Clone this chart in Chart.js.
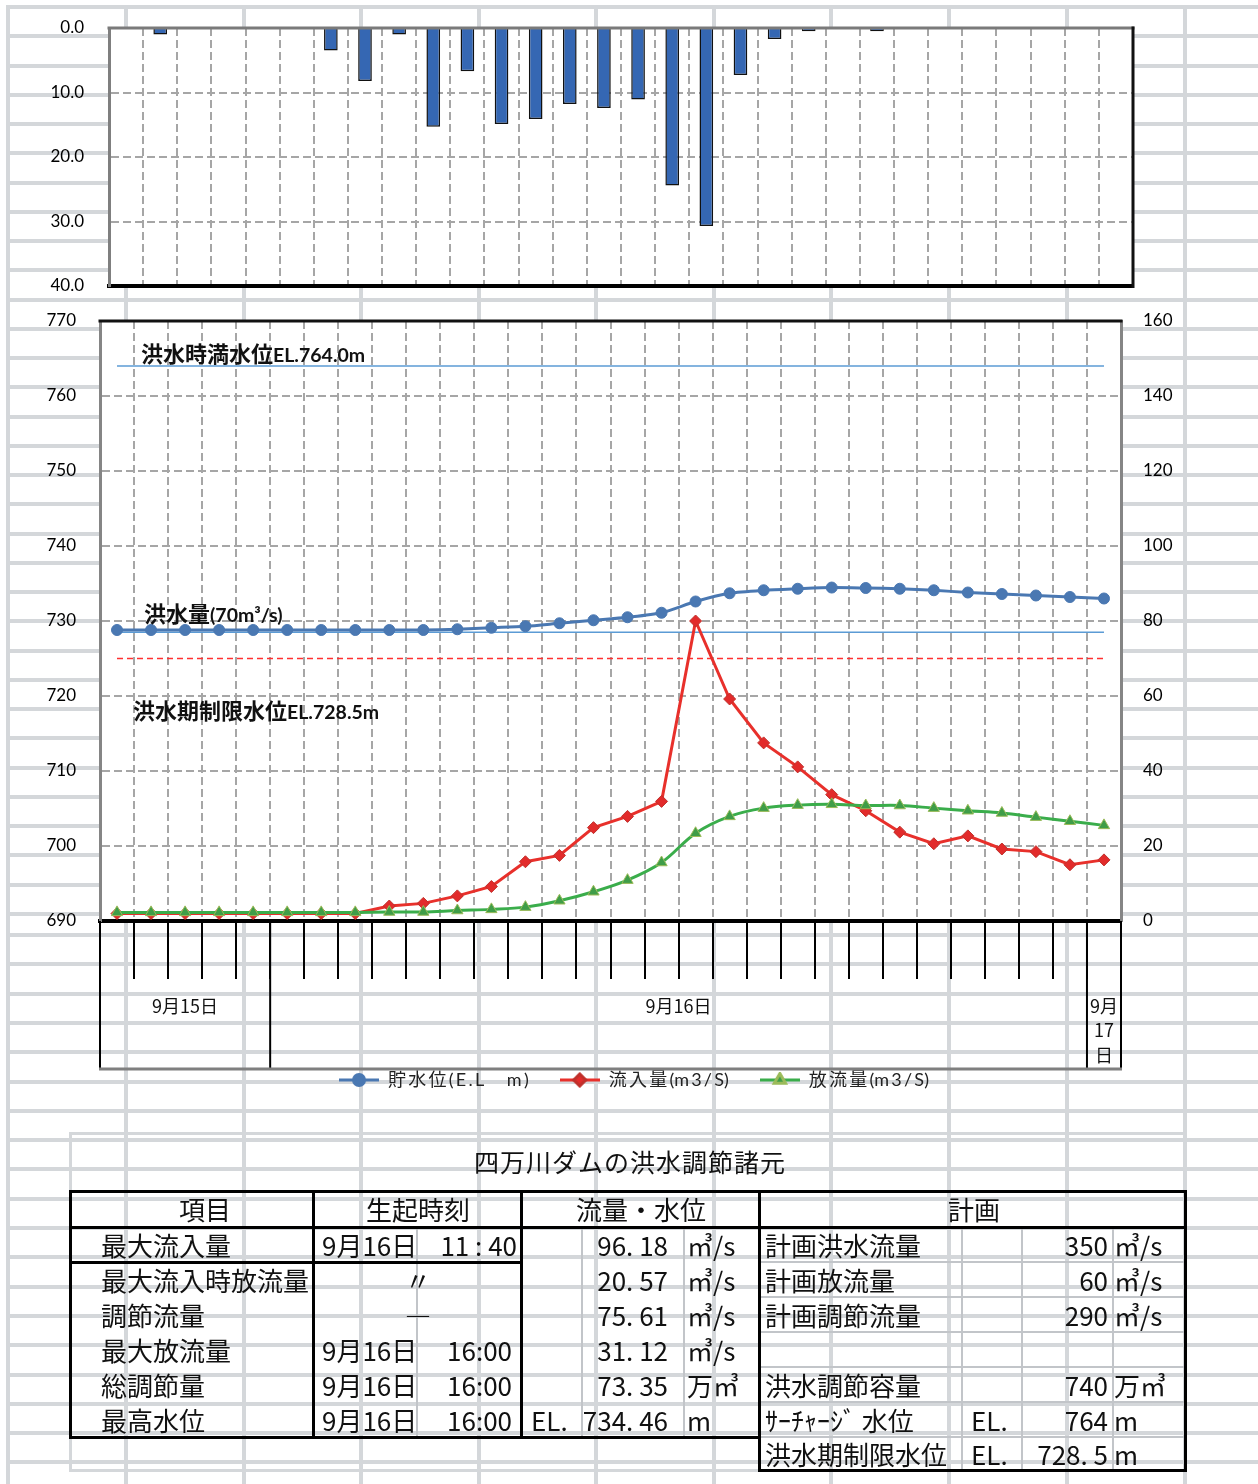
<!DOCTYPE html>
<html lang="ja">
<head>
<meta charset="utf-8">
<title>四万川ダムの洪水調節</title>
<script src="https://cdn.jsdelivr.net/npm/chart.js@4.4.1/dist/chart.umd.min.js"></script>
<style>
html, body { margin: 0; padding: 0; background: #fff; }
#page { position: relative; width: 1258px; height: 1484px; overflow: hidden; font-family: "Noto Sans CJK JP", sans-serif; color: #111; }
#page div { position: absolute; }
#bg, #tbl { left: 0; top: 0; width: 1258px; height: 1484px; }
.gl { background: #d4d7da; }
.tx { white-space: nowrap; line-height: 1; font-size: 26px; font-family: "Liberation Sans Narrow", "Noto Sans CJK JP", sans-serif; color: #111; }
canvas { position: absolute; left: 0; }
#rain { top: 0; }
#main { top: 300px; }
</style>
</head>
<body>
<div id="page">
  <div id="bg"></div>
  <canvas id="rain" width="1258" height="300"></canvas>
  <canvas id="main" width="1258" height="800"></canvas>
  <div id="tbl"></div>
</div>
<script>
// ---- data ----
const timeLabels = [
  '9/15 19:00', '9/15 20:00', '9/15 21:00', '9/15 22:00', '9/15 23:00',
  '9/16 0:00', '9/16 1:00', '9/16 2:00', '9/16 3:00', '9/16 4:00', '9/16 5:00',
  '9/16 6:00', '9/16 7:00', '9/16 8:00', '9/16 9:00', '9/16 10:00', '9/16 11:00',
  '9/16 12:00', '9/16 13:00', '9/16 14:00', '9/16 15:00', '9/16 16:00', '9/16 17:00',
  '9/16 18:00', '9/16 19:00', '9/16 20:00', '9/16 21:00', '9/16 22:00', '9/16 23:00',
  '9/17 0:00'
];
const rainfall = [0, 1.0, 0, 0, 0, 0, 3.5, 8.2, 1.0, 15.3, 6.7, 14.9, 14.1, 11.8, 12.4,
  11.1, 24.4, 30.7, 7.3, 1.7, 0.5, 0, 0.5, 0, 0, 0, 0, 0, 0, 0];
const waterLevel = [728.8, 728.8, 728.8, 728.8, 728.8, 728.8, 728.8, 728.8, 728.8, 728.8,
  728.9, 729.1, 729.3, 729.7, 730.1, 730.5, 731.1, 732.6, 733.7, 734.1,
  734.3, 734.46, 734.4, 734.3, 734.1, 733.8, 733.6, 733.4, 733.2, 733.0];
const inflow = [2.0, 2.0, 2.0, 2.0, 2.0, 2.0, 2.0, 2.0, 4.0, 4.7,
  6.7, 9.2, 15.8, 17.5, 24.9, 27.9, 31.9, 80.0, 59.2, 47.5,
  41.1, 33.7, 29.4, 23.7, 20.6, 22.7, 19.2, 18.5, 15.0, 16.3];
const outflow = [2.3, 2.3, 2.3, 2.3, 2.3, 2.3, 2.3, 2.3, 2.4, 2.4,
  2.8, 3.1, 3.7, 5.4, 7.8, 10.9, 15.6, 23.4, 27.9, 30.1,
  30.9, 31.12, 30.8, 30.8, 30.1, 29.4, 28.8, 27.7, 26.6, 25.5];
const seriesNames = [
  '貯\u2009水\u2009位\u2009(\u2009E\u2009.\u2009L\u3000 m\u2009)',
  '流\u2009入\u2009量\u2009(m\u20093\u2009/\u2009S)',
  '放\u2009流\u2009量\u2009(m\u20093\u2009/\u2009S)'
];
const fullLevel = 764;      // 洪水時満水位
const limitLevel = 728.5;   // 洪水期制限水位
const floodFlow = 70;       // 洪水量
const noteTexts = [['洪水時満水位', 'EL.764.0m'], ['洪水量', '(70m³/s)'], ['洪水期制限水位', 'EL.728.5m']];
const noteAnchors = [764, 728.5, 718];
const dayNames = ['9月15日', '9月16日', '9月17日'];
const dayFirstIndex = [0, 5, 29];
const dayPointCount = [5, 24, 1];

const tableTitle = '四万川ダムの洪水調節諸元';
const headTexts = ['項目', '生起時刻', '流量・水位', '計画'];
const itemNames = ['最大流入量', '最大流入時放流量', '調節流量', '最大放流量', '総調節量', '最高水位'];
const itemDates = ['9月16日', '', '', '9月16日', '9月16日', '9月16日'];
const itemTimes = ['11 : 40', '〃', '―', '16:00', '16:00', '16:00'];
const itemPrefix = ['', '', '', '', '', 'EL.'];
const itemValues = ['96. 18', '20. 57', '75. 61', '31. 12', '73. 35', '734. 46'];
const itemUnits = ['㎥/s', '㎥/s', '㎥/s', '㎥/s', '万㎥', 'm'];
const planNames = ['計画洪水流量', '計画放流量', '計画調節流量', '', '洪水調節容量', 'ｻｰﾁｬｰｼﾞ 水位', '洪水期制限水位'];
const planPrefix = ['', '', '', '', '', 'EL.', 'EL.'];
const planValues = ['350', '60', '290', '', '740', '764', '728. 5'];
const planUnits = ['㎥/s', '㎥/s', '㎥/s', '', '万㎥', 'm', 'm'];

// ---- spreadsheet background ----
const bg = document.getElementById('bg');
const addDiv = (parent, cls, css) => {
  const d = document.createElement('div');
  d.className = cls;
  Object.assign(d.style, css);
  parent.appendChild(d);
  return d;
};
const colX = [8, 126, 244, 361, 479, 596, 714, 831, 949, 1067, 1185];
const rowY = [];
for (let y = 7; y < 920; y += 29.25) rowY.push(y);
for (let y = 935; y < 1484; y += 29.3) rowY.push(y);
colX.forEach(x => addDiv(bg, 'gl', { left: (x - 2) + 'px', top: '5px', width: '4px', height: '1480px' }));
rowY.forEach(y => addDiv(bg, 'gl', { left: '6px', top: (y - 2) + 'px', width: '1252px', height: '4px' }));

Chart.defaults.font.family = "Lato, 'Noto Sans CJK JP', sans-serif";
Chart.defaults.color = '#000';

const gridGrey = '#a6a6a6';
const tickFont = { family: 'Lato', size: 17 };
const clear = 'rgba(0,0,0,0)';

const whitePlot = {
  id: 'whitePlot',
  beforeDraw(chart) {
    const { ctx, chartArea: a } = chart;
    ctx.save();
    ctx.fillStyle = '#fff';
    ctx.fillRect(a.left, a.top, a.right - a.left, a.bottom - a.top);
    ctx.restore();
  }
};

const edgeLines = (topColor, rightColor) => ({
  id: 'edgeLines',
  afterDraw(chart) {
    const { ctx, chartArea: a } = chart;
    ctx.save();
    ctx.lineWidth = 3;
    if (topColor) {
      ctx.strokeStyle = topColor;
      ctx.beginPath(); ctx.moveTo(a.left - 1.5, a.top); ctx.lineTo(a.right + 1.5, a.top); ctx.stroke();
    }
    if (rightColor) {
      ctx.strokeStyle = rightColor;
      ctx.beginPath(); ctx.moveTo(a.right, a.top - 1.5); ctx.lineTo(a.right, a.bottom + 2); ctx.stroke();
    }
    ctx.restore();
  }
});

// ---- rainfall chart ----
new Chart(document.getElementById('rain'), {
  type: 'bar',
  data: {
    labels: timeLabels,
    datasets: [{
      data: rainfall,
      backgroundColor: '#3567b3',
      borderColor: '#111',
      borderWidth: 1.5,
      barPercentage: 0.8,
      categoryPercentage: 0.5
    }]
  },
  options: {
    responsive: false,
    animation: false,
    events: [],
    layout: { padding: { top: 28, right: 125, bottom: 14, left: 0 } },
    plugins: { legend: { display: false }, tooltip: { enabled: false } },
    scales: {
      x: {
        offset: true,
        grid: { offset: true, color: gridGrey, lineWidth: 2, drawTicks: false },
        border: { color: '#000', width: 4, dash: [8, 4] },
        ticks: { display: false },
        afterFit: s => { s.height = 0; }
      },
      y: {
        reverse: true,
        min: 0,
        max: 40,
        ticks: { stepSize: 10, padding: 0, font: tickFont, callback: v => v.toFixed(1) },
        grid: { color: gridGrey, lineWidth: 2, drawTicks: true, tickLength: 25, tickColor: clear },
        border: { color: '#7f7f7f', width: 3, dash: [8, 4] },
        afterFit: s => { s.width = 109; }
      }
    }
  },
  plugins: [whitePlot, edgeLines('#7a7a7a', '#111')]
});

// ---- main chart ----
const drawMarker = (g, style, r, fill, stroke, x, y) => {
  g.fillStyle = fill;
  g.strokeStyle = stroke;
  if (Chart.helpers && Chart.helpers.drawPoint) {
    Chart.helpers.drawPoint(g, { pointStyle: style, radius: r, borderWidth: 1, rotation: 0 }, x, y);
  } else {
    g.beginPath(); g.arc(x, y, r, 0, Math.PI * 2); g.fill();
  }
};
const makeIcon = (lineColor, style, r, fill, stroke) => {
  const c = document.createElement('canvas');
  c.width = 40; c.height = 16;
  const g = c.getContext('2d');
  g.strokeStyle = lineColor; g.lineWidth = 3;
  g.beginPath(); g.moveTo(0, 8); g.lineTo(40, 8); g.stroke();
  drawMarker(g, style, r, fill, stroke, 20, 8);
  return c;
};
const blue = '#4a78b2', red = '#e8302b', green = '#3aad4b';
const legendIcons = [
  makeIcon(blue, 'circle', 5.5, blue, blue),
  makeIcon(red, 'rectRot', 6, '#e22b2b', '#c0302b'),
  makeIcon(green, 'triangle', 6.5, '#3f9d48', '#9bbb59')
];

const notesPlugin = {
  id: 'notes',
  afterDatasetsDraw(chart) {
    const { ctx, chartArea: a, scales: { yL } } = chart;
    const offs = [[41, -12], [44, -18], [33, 0]];
    ctx.save();
    ctx.fillStyle = '#111';
    ctx.textBaseline = 'alphabetic';
    noteTexts.forEach((t, i) => {
      const x = a.left + offs[i][0];
      const y = yL.getPixelForValue(noteAnchors[i]) + offs[i][1] + 8;
      ctx.font = "bold 22px 'Noto Sans CJK JP'";
      ctx.fillText(t[0], x, y);
      const w = ctx.measureText(t[0]).width;
      ctx.font = 'bold 19.5px Lato';
      ctx.fillText(t[1], x + w, y);
    });
    ctx.restore();
  }
};

const dayAxis = {
  id: 'dayAxis',
  afterDraw(chart) {
    const { ctx, chartArea: a, scales: { x } } = chart;
    const half = (x.getPixelForValue(1) - x.getPixelForValue(0)) / 2;
    const top = a.bottom, bottom = a.bottom + 148;
    ctx.save();
    ctx.strokeStyle = '#000';
    ctx.lineWidth = 2;
    ctx.fillStyle = '#111';
    ctx.font = "18px 'Noto Sans CJK JP'";
    ctx.textAlign = 'center';
    ctx.textBaseline = 'middle';
    let x0, x1;
    dayNames.forEach((name, i) => {
      x0 = x.getPixelForValue(dayFirstIndex[i]) - half;
      x1 = x.getPixelForValue(dayFirstIndex[i] + dayPointCount[i] - 1) + half;
      ctx.beginPath(); ctx.moveTo(x0, top); ctx.lineTo(x0, bottom); ctx.stroke();
      const cx = (x0 + x1) / 2;
      if (ctx.measureText(name).width > x1 - x0 - 4) {
        const parts = name.match(/^(\d+月)(\d+)(日)$/).slice(1);
        parts.forEach((p, k) => ctx.fillText(p, cx, top + 85 + k * 24.5));
      } else {
        ctx.fillText(name, cx, top + 85);
      }
    });
    ctx.beginPath(); ctx.moveTo(x1, top); ctx.lineTo(x1, bottom); ctx.stroke();
    ctx.strokeStyle = '#7f7f7f';
    ctx.lineWidth = 3;
    const left = x.getPixelForValue(0) - half;
    ctx.beginPath(); ctx.moveTo(left - 1, bottom); ctx.lineTo(x1 + 1, bottom); ctx.stroke();
    ctx.restore();
  }
};

const flat = v => timeLabels.map(() => v);

new Chart(document.getElementById('main'), {
  type: 'line',
  data: {
    labels: timeLabels,
    datasets: [
      {
        label: seriesNames[0], data: waterLevel, yAxisID: 'yL',
        borderColor: blue, backgroundColor: blue, borderWidth: 3, tension: 0.25,
        pointStyle: 'circle', pointRadius: 5.5, pointBorderWidth: 1, pointBorderColor: blue, order: 1
      },
      {
        label: seriesNames[1], data: inflow, yAxisID: 'yR',
        borderColor: red, backgroundColor: '#e22b2b', borderWidth: 3, tension: 0,
        pointStyle: 'rectRot', pointRadius: 6, pointBorderWidth: 1, pointBorderColor: '#c0302b', order: 3
      },
      {
        label: seriesNames[2], data: outflow, yAxisID: 'yR',
        borderColor: green, backgroundColor: '#3f9d48', borderWidth: 3, tension: 0.35,
        pointStyle: 'triangle', pointRadius: 6.5, pointBorderWidth: 1, pointBorderColor: '#9bbb59', order: 2
      },
      { label: 'full', data: flat(fullLevel), yAxisID: 'yL', borderColor: '#5b9bd5', borderWidth: 1.5, pointRadius: 0, order: 10 },
      { label: 'limit', data: flat(limitLevel), yAxisID: 'yL', borderColor: '#5b9bd5', borderWidth: 1.5, pointRadius: 0, order: 10 },
      { label: 'flood', data: flat(floodFlow), yAxisID: 'yR', borderColor: '#ff3030', borderWidth: 1.5, borderDash: [6, 4], pointRadius: 0, order: 10 }
    ]
  },
  options: {
    responsive: false,
    animation: false,
    events: [],
    layout: { padding: { top: 21, right: 0, bottom: 1, left: 10 } },
    plugins: {
      tooltip: { enabled: false },
      legend: {
        position: 'bottom',
        labels: {
          padding: 31,
          usePointStyle: true,
          pointStyleWidth: 40,
          color: '#222',
          font: { family: "Lato, 'Noto Sans CJK JP'", size: 18 },
          generateLabels: chart => Chart.defaults.plugins.legend.labels.generateLabels(chart)
            .filter(it => it.datasetIndex < 3)
            .sort((p, q) => p.datasetIndex - q.datasetIndex)
            .map(it => ({ ...it, pointStyle: legendIcons[it.datasetIndex] }))
        }
      }
    },
    scales: {
      x: {
        offset: true,
        grid: {
          offset: true, color: gridGrey, lineWidth: 2, drawTicks: true,
          tickLength: 58, tickColor: '#000', tickWidth: 2, tickBorderDash: []
        },
        border: { color: '#000', width: 4, dash: [8, 4] },
        ticks: { display: false, autoSkip: false },
        afterFit: s => { s.height = 119; }
      },
      yL: {
        position: 'left', min: 690, max: 770,
        ticks: { stepSize: 10, padding: 0, font: tickFont },
        grid: { color: gridGrey, lineWidth: 2, drawTicks: true, tickLength: 24, tickColor: clear },
        border: { color: '#858585', width: 3, dash: [8, 4] },
        afterFit: s => { s.width = 90; }
      },
      yR: {
        position: 'right', min: 0, max: 160,
        ticks: { stepSize: 20, padding: 0, font: tickFont },
        grid: { display: false, drawTicks: true, tickLength: 22, tickColor: clear },
        border: { color: '#858585', width: 3 },
        afterFit: s => { s.width = 137; }
      }
    }
  },
  plugins: [whitePlot, notesPlugin, dayAxis, edgeLines('#111', null)]
});

// ---- table of flood control figures ----
const tbl = document.getElementById('tbl');
const hl = (x1, x2, y, w, c) => addDiv(tbl, '', { left: (x1 - w / 2) + 'px', top: (y - w / 2) + 'px', width: (x2 - x1 + w) + 'px', height: w + 'px', background: c });
const vl = (x, y1, y2, w, c) => addDiv(tbl, '', { left: (x - w / 2) + 'px', top: (y1 - w / 2) + 'px', width: w + 'px', height: (y2 - y1 + w) + 'px', background: c });
const tx = (s, x, y, align, size, spacing) => {
  if (!s) return;
  const shift = align === 'left' ? 0 : align === 'right' ? -100 : -50;
  const d = addDiv(tbl, 'tx', { left: x + 'px', top: y + 'px', transform: `translate(${shift}%, -50%)` });
  if (size) d.style.fontSize = size + 'px';
  if (spacing) d.style.letterSpacing = spacing + 'px';
  d.textContent = s;
};

const soft = '#d4d7da', thin = '#c2c5c9', ink = '#000';
// pale frame of the sheet block
hl(70, 1185, 1133, 3, soft); hl(70, 1185, 1470, 3, soft);
vl(70, 1133, 1470, 3, soft); vl(1185, 1133, 1470, 3, soft);

const hy = 1209;
const rowsY = [1245, 1280, 1315, 1350, 1385, 1420, 1454];
const edgesY = [1227, 1262, 1297, 1332, 1367, 1402, 1437, 1470];

// inner thin lines
[417, 582, 684].forEach(x => vl(x, 1227, 1437, 2, thin));
[962, 1022, 1113].forEach(x => vl(x, 1227, 1470, 2, thin));
edgesY.slice(1, 7).forEach(y => hl(759, 1185, y, 2, thin));

// thick lines
hl(70, 1185, 1191, 3, ink);
hl(70, 1185, 1227, 3, ink);
hl(70, 521, 1262, 3, ink);
hl(70, 759, 1437, 3, ink);
hl(759, 1185, 1470, 3, ink);
vl(70, 1191, 1437, 3, ink);
vl(313, 1191, 1437, 3, ink);
vl(521, 1191, 1437, 3, ink);
vl(759, 1191, 1470, 3, ink);
vl(1185, 1191, 1470, 3, ink);

tx(tableTitle, 630, 1161, 'center', 25, 1);
[205, 418, 641, 974].forEach((x, i) => tx(headTexts[i], x, hy, 'center'));

itemNames.forEach((n, i) => {
  const y = rowsY[i];
  tx(n, 101, y, 'left');
  if (itemDates[i]) {
    tx(itemDates[i], 322, y, 'left');
    tx(itemTimes[i], i === 0 ? 517 : 512, y, 'right');
  } else {
    tx(itemTimes[i], 418, y, 'center');
  }
  tx(itemPrefix[i], 531, y, 'left');
  tx(itemValues[i], 668, y, 'right');
  tx(itemUnits[i], 687, y, 'left');
});
planNames.forEach((n, i) => {
  const y = rowsY[i];
  tx(n, 765, y, 'left');
  tx(planPrefix[i], 971, y, 'left');
  tx(planValues[i], 1108, y, 'right');
  tx(planUnits[i], 1114, y, 'left');
});
</script>
</body>
</html>
